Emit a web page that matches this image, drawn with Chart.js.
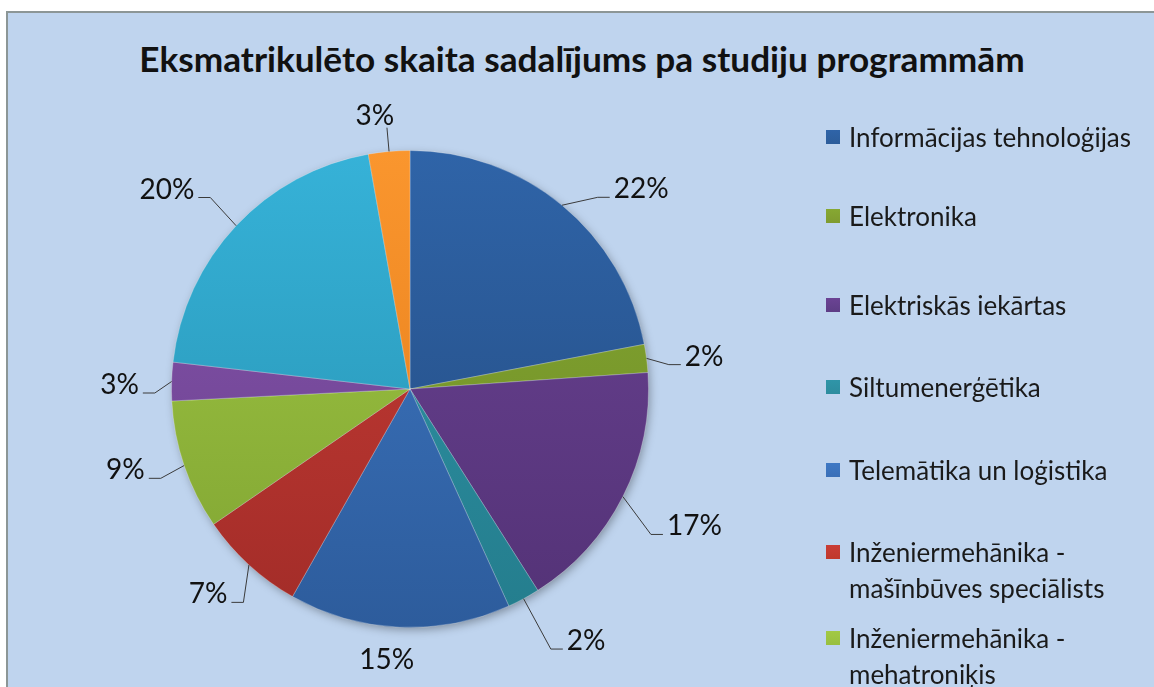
<!DOCTYPE html>
<html>
<head>
<meta charset="utf-8">
<script src="https://cdn.jsdelivr.net/npm/chart.js@4/dist/chart.umd.min.js"></script>
<style>
  html,body{margin:0;padding:0;background:#fff;width:1154px;height:687px;overflow:hidden;}
  #frame{position:absolute;left:6px;top:11px;width:1148px;height:676px;background:#BFD4EE;
    border-left:2px solid #8C9696;border-top:2px solid #8C9696;box-sizing:border-box;}
  #title{position:absolute;left:10px;width:1144px;top:36px;text-align:center;
    font-family:Lato,"Open Sans",sans-serif;font-weight:bold;font-size:35.2px;color:#111;line-height:44px;white-space:nowrap;}
  #wrap{position:absolute;left:0;top:0;width:1154px;height:687px;}
  #legend{position:absolute;left:0;top:0;width:1154px;height:687px;overflow:hidden;
    font-family:Lato,"Open Sans",sans-serif;font-size:26px;color:#1a1a1a;}
  .li{position:absolute;left:826px;line-height:36px;}
  .li .mk{position:absolute;left:0;top:11px;width:14px;height:14px;}
  .li .tx{position:absolute;left:23px;top:0;white-space:nowrap;}
</style>
</head>
<body>
<div id="frame"></div>
<div id="title">Eksmatrikulēto skaita sadalījums pa studiju programmām</div>
<div id="wrap"><canvas id="c" width="1154" height="687"></canvas></div>
<div id="legend"></div>
<script>
// ---- data ----
const categories = [
  "Informācijas tehnoloģijas",
  "Elektronika",
  "Elektriskās iekārtas",
  "Siltumenerģētika",
  "Telemātika un loģistika",
  ["Inženiermehānika -", "mašīnbūves speciālists"],
  ["Inženiermehānika -", "mehatroniķis"],
  "Programma 8",
  "Programma 9",
  "Programma 10"
];
const shares = [22.0, 1.9, 17.1, 2.2, 15.0, 7.2, 8.8, 2.6, 20.4, 2.8];

// ---- styles ----
const topColors    = ["#2F64A8","#86A832","#6B4394","#2F95A8","#3E78C4","#C93D36","#A2C944","#8654AE","#36B2D8","#FA962E"];
const bottomColors = ["#234A7E","#6C8A25","#533276","#247D8D","#2D5C9C","#A22C28","#7FA332","#68408A","#2690AF","#E27A18"];
const legendColors = ["#2C5D9A","#7F9B2F","#5D3D85","#2D8C9E","#3A6FB7","#C0392B","#98BF3F","#7A4C9E","#33A8CC","#F08A25"];
const leaderLen    = [1.125, 1.09, 1.18, 1.24, 1.0, 1.135, 1.11, 1.07, 1.16, 1.10];
const leaderTurn   = [4.8, 2, 4.3, 0, 2.4, -4.5, -1, -2.7, 0.6, 0];
const legendY      = [137, 216, 305, 387, 470, 552, 638, 760, 840, 920];

// legend (HTML)
const lg = document.getElementById('legend');
categories.forEach((c, i) => {
  const d = document.createElement('div');
  d.className = 'li';
  d.style.top = (legendY[i] - 18) + 'px';
  const mk = document.createElement('div');
  mk.className = 'mk';
  mk.style.background = 'linear-gradient(' + topColors[i] + ',' + legendColors[i] + ')';
  const tx = document.createElement('div');
  tx.className = 'tx';
  tx.innerHTML = (Array.isArray(c) ? c : [c]).join('<br>');
  d.appendChild(mk); d.appendChild(tx); lg.appendChild(d);
});

function grad(ctx, i) {
  const chart = ctx.chart;
  const a = chart.chartArea;
  if (!a) return topColors[i];
  const g = chart.ctx.createLinearGradient(0, a.top, 0, a.bottom);
  g.addColorStop(0, topColors[i]);
  g.addColorStop(1, bottomColors[i]);
  return g;
}

const shadowPlugin = {
  id: 'pieShadow',
  beforeDatasetsDraw(chart) {
    const arc = chart.getDatasetMeta(0).data[0];
    if (!arc) return;
    const ctx = chart.ctx;
    ctx.save();
    ctx.shadowColor = 'rgba(0,0,0,0.35)';
    ctx.shadowBlur = 10;
    ctx.shadowOffsetX = 2;
    ctx.shadowOffsetY = 3;
    ctx.fillStyle = '#4a6a90';
    ctx.beginPath();
    ctx.arc(arc.x, arc.y, arc.outerRadius - 1, 0, Math.PI * 2);
    ctx.fill();
    ctx.restore();
  }
};

const labelPlugin = {
  id: 'outLabels',
  afterDatasetsDraw(chart) {
    const meta = chart.getDatasetMeta(0);
    const data = chart.data.datasets[0].data;
    const total = data.reduce((s, v) => s + v, 0);
    const ctx = chart.ctx;
    ctx.save();
    ctx.font = '28px Lato, "Open Sans", sans-serif';
    ctx.fillStyle = '#111';
    ctx.strokeStyle = '#3a3a3a';
    ctx.lineWidth = 1;
    meta.data.forEach((el, i) => {
      const mid = (el.startAngle + el.endAngle) / 2;
      const cx = el.x, cy = el.y, r = el.outerRadius;
      const dx = Math.cos(mid), dy = Math.sin(mid);
      const m2 = mid + leaderTurn[i] * Math.PI / 180;
      const ex = Math.cos(m2), ey = Math.sin(m2);
      const txt = Math.round(data[i] / total * 100) + '%';
      const k = leaderLen[i];
      const p0 = [cx + r * dx, cy + r * dy];
      const p1 = [cx + r * k * ex, cy + r * k * ey];
      if (Math.abs(dx) < 0.3) {
        if (dy < 0) {
          ctx.beginPath(); ctx.moveTo(p0[0], p0[1]); ctx.lineTo(p1[0], p1[1]); ctx.stroke();
          ctx.textAlign = 'center'; ctx.textBaseline = 'bottom';
          ctx.fillText(txt, p1[0] - 12, p1[1] + 2);
        } else {
          ctx.textAlign = 'center'; ctx.textBaseline = 'middle';
          ctx.fillText(txt, cx + (r + 33) * ex, cy + (r + 33) * ey);
        }
      } else {
        const s = dx > 0 ? 1 : -1;
        const p2 = [p1[0] + s * 12, p1[1]];
        ctx.beginPath(); ctx.moveTo(p0[0], p0[1]); ctx.lineTo(p1[0], p1[1]); ctx.lineTo(p2[0], p2[1]); ctx.stroke();
        ctx.textAlign = s > 0 ? 'left' : 'right';
        ctx.textBaseline = 'middle';
        ctx.fillText(txt, p2[0] + s * 4, p2[1] - 8);
      }
    });
    ctx.restore();
  }
};

new Chart(document.getElementById('c'), {
  type: 'pie',
  data: {
    labels: categories,
    datasets: [{
      data: shares,
      backgroundColor: (ctx) => grad(ctx, ctx.dataIndex),
      borderColor: 'rgba(255,255,255,0.25)',
      borderWidth: 1
    }]
  },
  options: {
    responsive: false,
    animation: false,
    layout: { padding: { left: 171, top: 150, right: 505, bottom: 59 } },
    plugins: { legend: { display: false }, title: { display: false }, tooltip: { enabled: false } },
    events: []
  },
  plugins: [shadowPlugin, labelPlugin]
});
</script>
</body>
</html>
